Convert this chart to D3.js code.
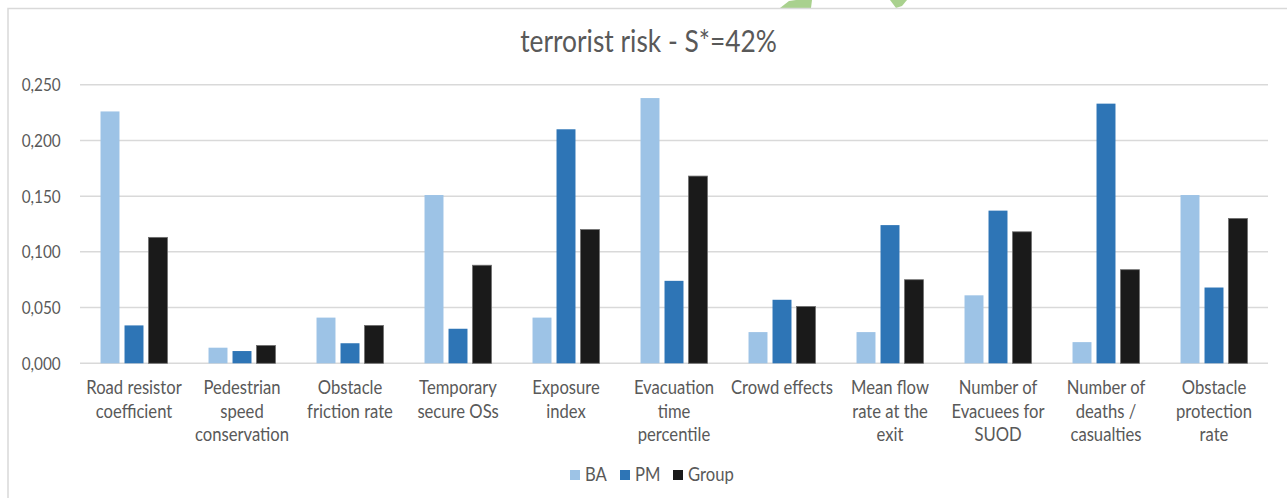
<!DOCTYPE html>
<html>
<head>
<meta charset="utf-8">
<script src="https://cdn.jsdelivr.net/npm/d3@7/dist/d3.min.js"></script>
<style>
  html, body { margin: 0; padding: 0; background: #fff; }
  svg { display: block; }
  text { font-family: Lato, "Open Sans", sans-serif; fill: #595959; }
</style>
</head>
<body>
<script>
// Chart data: one value per indicator for each evaluator
const categories = [
  "Road resistor\ncoefficient",
  "Pedestrian\nspeed\nconservation",
  "Obstacle\nfriction rate",
  "Temporary\nsecure OSs",
  "Exposure\nindex",
  "Evacuation\ntime\npercentile",
  "Crowd effects",
  "Mean flow\nrate at the\nexit",
  "Number of\nEvacuees for\nSUOD",
  "Number of\ndeaths /\ncasualties",
  "Obstacle\nprotection\nrate"
];
const seriesNames = ["BA", "PM", "Group"];
const baValues    = [0.226, 0.014, 0.041, 0.151, 0.041, 0.238, 0.028, 0.028, 0.061, 0.019, 0.151];
const pmValues    = [0.034, 0.011, 0.018, 0.031, 0.210, 0.074, 0.057, 0.124, 0.137, 0.233, 0.068];
const groupValues = [0.113, 0.016, 0.034, 0.088, 0.120, 0.168, 0.051, 0.075, 0.118, 0.084, 0.130];
const yTicks = [0, 0.05, 0.10, 0.15, 0.20, 0.25];
const titleText = "terrorist risk - S*=42%";

const seriesValues = [baValues, pmValues, groupValues];
const colors = { BA: "#9DC3E6", PM: "#2E75B6", Group: "#1A1A1A" };

const W = 1287, H = 498;
const plot = { left: 80, right: 1268, top: 84.7, bottom: 363.3 };

const svg = d3.select("body").append("svg").attr("width", W).attr("height", H);

// leaf shapes of the page logo peeking above the chart frame
svg.append("path").attr("d", "M780,8 L789,1 L796,0 L812,0 L811,8 Z").attr("fill", "#A9D18E");
svg.append("path").attr("d", "M890,0 L907,0 L902,6 L896,8 Z").attr("fill", "#A9D18E");

// chart frame
svg.append("rect").attr("x", 8).attr("y", 8.5).attr("width", W + 10).attr("height", H + 10)
  .attr("fill", "#fff").attr("stroke", "#D9D9D9").attr("stroke-width", 1.5);

const x0 = d3.scaleBand().domain(d3.range(categories.length))
  .range([plot.left, plot.right]).paddingInner(0.38).paddingOuter(0.19);
const x1 = d3.scaleBand().domain(seriesNames).range([0, x0.bandwidth()]).paddingInner(0.21);
const y = d3.scaleLinear().domain([0, 0.25]).range([plot.bottom, plot.top]);

const locale = d3.formatLocale({ decimal: ",", thousands: ".", grouping: [3], currency: ["", "€"] });
const fmt = locale.format(".3f");

// text drawn narrower than its height, like the source rendering
function stretchedText(parent, x, yPos, str, size, sx, anchor) {
  const g = parent.append("g").attr("transform", `translate(${x},${yPos}) scale(${sx},1)`);
  return g.append("text").attr("text-anchor", anchor || "middle")
    .style("font-size", size + "px").text(str);
}

// gridlines
svg.append("g").selectAll("line").data(yTicks).join("line")
  .attr("x1", plot.left).attr("x2", plot.right)
  .attr("y1", d => y(d)).attr("y2", d => y(d))
  .attr("stroke", "#D9D9D9").attr("stroke-width", 1.5);

// y tick labels
const yLab = svg.append("g");
yTicks.forEach(t => stretchedText(yLab, 60.7, y(t) + 6.5, fmt(t), 16.5, 0.93, "end"));

// bars
const groups = svg.append("g").selectAll("g").data(categories).join("g")
  .attr("transform", (d, i) => `translate(${x0(i)},0)`);
groups.selectAll("rect")
  .data((d, i) => seriesNames.map((s, k) => ({ s, v: seriesValues[k][i] })))
  .join("rect")
  .attr("x", d => x1(d.s)).attr("width", x1.bandwidth())
  .attr("y", d => y(d.v)).attr("height", d => y(0) - y(d.v))
  .attr("fill", d => colors[d.s])
  .attr("stroke", d => d.s === "Group" ? "#6F6F6F" : "none")
  .attr("stroke-width", 0.8);

// category labels
const catLab = svg.append("g");
categories.forEach((c, i) => {
  const cx = x0(i) + x0.bandwidth() / 2;
  c.split("\n").forEach((line, j) => stretchedText(catLab, cx, 394.3 + j * 23.3, line, 18.5, 0.9));
});

// title
stretchedText(svg, 648.5, 51.7, titleText, 31, 0.85);

// legend
const legendItems = [
  { s: "BA", x: 570 }, { s: "PM", x: 620 }, { s: "Group", x: 673 }
];
const lg = svg.append("g");
legendItems.forEach(it => {
  lg.append("rect").attr("x", it.x).attr("y", 470).attr("width", 10).attr("height", 10)
    .attr("fill", colors[it.s]);
  stretchedText(lg, it.x + 15, 480.5, it.s, 18.5, 0.9, "start");
});
</script>
</body>
</html>
